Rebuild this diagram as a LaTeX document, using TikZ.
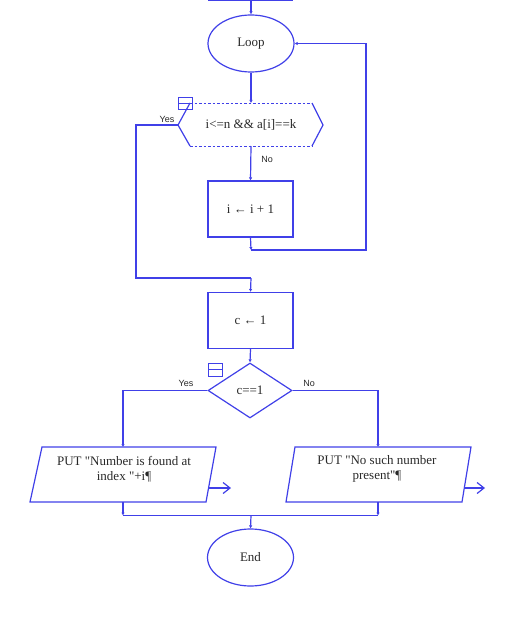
\documentclass[tikz,border=0pt]{standalone}
\usepackage{fontspec}
\setmainfont{Liberation Serif}
\newfontfamily\nodefont{Liberation Serif}
\newfontfamily\lblfont{Liberation Sans}
\usetikzlibrary{shapes.geometric,arrows.meta}
\definecolor{fcblue}{RGB}{64,64,232}
\definecolor{fctext}{RGB}{40,40,40}
\tikzset{
  fcline/.style={draw=fcblue, line width=1.2pt},
  arr/.style={fcline, -{Latex[length=3pt,width=3.5pt]}},
  outarr/.style={fcline, -{Straight Barb[length=7pt,width=11pt]}},
  term/.style={ellipse, fcline, minimum width=86pt, minimum height=57pt, inner sep=0pt,
    font=\nodefont\fontsize{13}{15}\selectfont, text=fctext},
  procbox/.style={rectangle, fcline, minimum width=85pt, minimum height=56pt, inner sep=0pt,
    font=\nodefont\fontsize{13}{15}\selectfont, text=fctext},
  dec/.style={diamond, fcline, minimum width=84pt, minimum height=55pt, inner sep=0pt,
    font=\nodefont\fontsize{13}{15}\selectfont, text=fctext},
  txt/.style={inner sep=0pt, font=\nodefont\fontsize{13}{15}\selectfont, text=fctext, align=center},
  lbl/.style={inner sep=0pt, font=\lblfont\fontsize{9}{10}\selectfont, text=fctext},
}
\begin{document}
\begin{tikzpicture}[x=1pt,y=-1pt]
\useasboundingbox (0,0) rectangle (522,623);

% top cut-off shape edge
\coordinate (topL) at (208,0.6);
\coordinate (topR) at (293,0.6);
\coordinate (topC) at (251,0.6);
\draw[fcline] (topL) -- (topR);

% nodes
\node[term] (loop) at (251,43.5) {Loop};

% hexagon decision
\coordinate (hexL) at (178,125);
\coordinate (hexTL) at (190,103);
\coordinate (hexTR) at (312,103);
\coordinate (hexR) at (323,125);
\coordinate (hexBR) at (312,146);
\coordinate (hexBL) at (190,146);
\coordinate (hexT) at (251,103);
\coordinate (hexB) at (251,146);
\draw[fcline] (hexBL) -- (hexL) -- (hexTL);
\draw[fcline] (hexTR) -- (hexR) -- (hexBR);
\draw[fcline, line width=0.8pt, dash pattern=on 2.5pt off 2pt] (hexTL) -- (hexTR);
\draw[fcline, line width=0.8pt, dash pattern=on 2.5pt off 2pt] (hexBL) -- (hexBR);
\node[txt] (cond1) at (251,125) {i<=n \&\& a[i]==k};

\node[procbox] (inc) at (250.5,209) {i ← i + 1};
\node[procbox] (cset) at (250.5,320.5) {c ← 1};
\node[dec, aspect=1.53] (cond2) at (250,390.5) {c==1};

% parallelograms
\coordinate (pLtl) at (42,447);
\coordinate (pLtr) at (216,447);
\coordinate (pLbr) at (206,502);
\coordinate (pLbl) at (30,502);
\draw[fcline] (pLtl) -- (pLtr) -- (pLbr) -- (pLbl) -- cycle;
\node[txt] (outL) at (124,469) {PUT "Number is found at\\index "+i¶};
\coordinate (pLtop) at (123,447);
\coordinate (pLbot) at (123,502);
\coordinate (pLout) at (208,488);
\coordinate (pLoutE) at (231,488);

\coordinate (pRtl) at (295,447);
\coordinate (pRtr) at (471,447);
\coordinate (pRbr) at (462,502);
\coordinate (pRbl) at (286,502);
\draw[fcline] (pRtl) -- (pRtr) -- (pRbr) -- (pRbl) -- cycle;
\node[txt] (outR) at (377,469) {PUT "No such number\\present"¶};
\coordinate (pRtop) at (378,447);
\coordinate (pRbot) at (378,502);
\coordinate (pRout) at (464,488);
\coordinate (pRoutE) at (485,488);

\node[term, minimum height=57pt] (endn) at (250.5,557.5) {End};

% symbol boxes
\draw[fcline, line width=1pt] (178,98) rectangle (192,110) (178,104) -- (192,104);
\draw[fcline, line width=1pt] (208,363) rectangle (222,376) (208,369.5) -- (222,369.5);

% labels
\node[lbl] (yes1) at (167,119) {Yes};
\node[lbl] (no1) at (267,159) {No};
\node[lbl] (yes2) at (186,383) {Yes};
\node[lbl] (no2) at (309,383) {No};

% connectors
\draw[arr] (topC) -- (loop.north);
\draw[arr] (loop.south) -- (hexT);
\draw[arr] (hexB) -- (inc.north);
\coordinate (j1) at (251,250);
\coordinate (j1R) at (366,250);
\coordinate (j1U) at (366,43.5);
\draw[arr] (inc.south) -- (j1);
\draw[arr] (j1) -- (j1R) -- (j1U) -- (loop.east);

\coordinate (yA) at (136,125);
\coordinate (yB) at (136,278);
\coordinate (yC) at (251,278);
\draw[fcline] (hexL) -- (yA) -- (yB) -- (yC);
\draw[arr] (yC) -- (cset.north);
\draw[arr] (cset.south) -- (cond2.north);

\coordinate (y2) at (123,390.5);
\coordinate (n2) at (378,390.5);
\draw[arr] (cond2.west) -- (y2) -- (pLtop);
\draw[arr] (cond2.east) -- (n2) -- (pRtop);
\draw[outarr] (pLout) -- (pLoutE);
\draw[outarr] (pRout) -- (pRoutE);

\coordinate (mL) at (123,515.5);
\coordinate (mR) at (378,515.5);
\coordinate (mC) at (251,515.5);
\draw[arr] (pLbot) -- (mL);
\draw[arr] (pRbot) -- (mR);
\draw[fcline] (mL) -- (mR);
\draw[arr] (mC) -- (endn.north);
\end{tikzpicture}
\end{document}
